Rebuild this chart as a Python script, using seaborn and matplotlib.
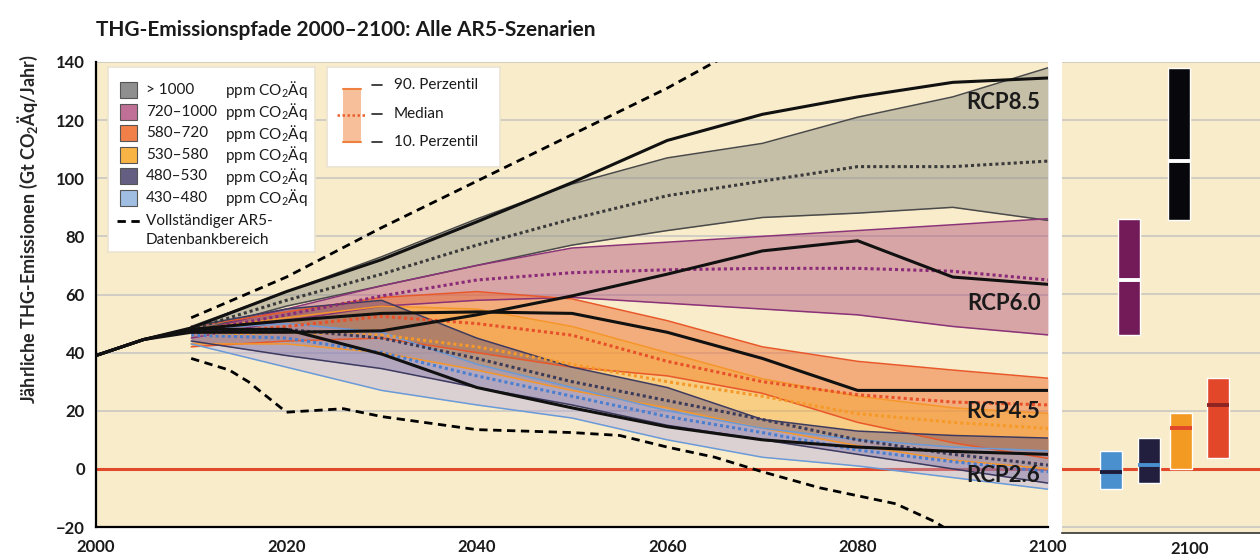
import numpy as np
import pandas as pd
import seaborn as sns
import matplotlib.pyplot as plt
from matplotlib.patches import Rectangle

# --- data (Gt CO2Äq/Jahr) ---
years = [2010, 2020, 2030, 2040, 2050, 2060, 2070, 2080, 2090, 2100]
full_years = [2000, 2005] + years

# Szenario-Kategorien: 10. Perzentil, Median, 90. Perzentil
cat_labels = ["> 1000", "720\u20131000", "580\u2013720", "530\u2013580", "480\u2013530", "430\u2013480"]

gt1000_lo = [47, 56, 63, 70, 77, 82, 86.5, 88, 90, 85.5]
gt1000_md = [48, 58, 67, 77, 86, 94, 99, 104, 104, 105.9]
gt1000_hi = [49, 61, 73, 86, 98, 107, 112, 121, 128, 138]

c720_lo = [45, 51, 56, 58, 59, 57, 55, 53, 49, 46.1]
c720_md = [47, 53, 59.5, 65, 67.5, 68.5, 69, 69, 68, 65]
c720_hi = [47, 55, 63, 70, 76, 78, 80, 82, 84, 86.1]

c580_lo = [42, 44, 45, 40, 35, 32, 26, 16, 9, 3.6]
c580_md = [46, 49, 52.5, 50, 46, 37, 30, 25.5, 23, 22]
c580_hi = [49, 54, 59, 61, 58.5, 51, 42, 37, 34, 31.2]

c530_lo = [43, 43, 40, 34, 27, 21, 14, 8, 3, 0]
c530_md = [46, 47, 46, 42, 36, 30, 25, 19, 16, 13.9]
c530_hi = [48, 52, 56, 55, 49, 40, 31, 25, 21, 19.1]

c480_lo = [44, 39, 34.5, 28, 22, 15, 10, 5, 0, -4.9]
c480_md = [47, 48, 45, 38, 30, 23.5, 17, 10, 5, 1.3]
c480_hi = [49, 55, 58, 45, 35, 28, 17, 13, 11.5, 10.6]

c430_lo = [43, 35, 27, 22, 17.5, 10, 4, 1, -3, -7]
c430_md = [46, 45, 40, 32, 25, 18, 12.5, 6.5, 2.5, -1]
c430_hi = [48, 50, 47, 36, 28, 20, 14, 10, 7.5, 6.2]

# RCP-Pfade inkl. historischer Verlauf 2000-2010
rcp85 = [39, 44.5, 48.5, 61, 72, 85, 98.5, 113, 122, 128, 133, 134.5]
rcp60 = [39, 44.5, 47, 47, 47.5, 53, 59.5, 67, 75, 78.5, 66, 63.5]
rcp45 = [39, 44.5, 48, 51, 53.5, 54, 53.5, 47, 38, 27, 27, 27]
rcp26 = [39, 44.5, 48, 48, 39.5, 28, 21, 14.5, 10, 7.5, 6, 5]

# Vollständiger AR5-Datenbankbereich
db_hi_years = [2010, 2020, 2030, 2040, 2050, 2060, 2065, 2070]
db_hi_vals = [52, 66, 83, 99, 115, 131, 140, 148]
db_lo_years = [2010, 2014, 2016, 2020, 2026, 2030, 2040, 2050, 2055, 2060, 2065, 2070, 2076, 2084, 2088, 2090]
db_lo_vals = [38, 34, 30, 19.5, 20.7, 18, 13.5, 12.5, 11.5, 7.5, 4, -1, -6.5, -12, -18, -22]

# --- styles ---
BG = "#f8ecca"
bands = [
    # lo, md, hi, fill, alpha, edge, median colour, legend colour
    (gt1000_lo, gt1000_md, gt1000_hi, "#8a8a80", 0.45, "#4a4a4a", "#3a3a3a", "#8f8f8f"),
    (c720_lo, c720_md, c720_hi, "#b0507a", 0.45, "#8a3378", "#8a2a78", "#c07096"),
    (c580_lo, c580_md, c580_hi, "#f07030", 0.50, "#e8582a", "#e8502a", "#f08048"),
    (c530_lo, c530_md, c530_hi, "#f9a830", 0.45, "#f5962a", "#f59a28", "#f9b446"),
    (c480_lo, c480_md, c480_hi, "#54487e", 0.42, "#3c3a60", "#3a3a5a", "#645f82"),
    (c430_lo, c430_md, c430_hi, "#b0a6e0", 0.38, "#6a9ad8", "#4a7ed0", "#a0bee2"),
]

sns.set_theme(style="white")
plt.rcParams['font.family'] = ['Lato', 'DejaVu Sans']
plt.rcParams['mathtext.fontset'] = 'custom'
plt.rcParams['mathtext.rm'] = 'Lato'
plt.rcParams['mathtext.bf'] = 'Lato:bold'

fig = plt.figure(figsize=(12.6, 5.6), dpi=100)
ax = fig.add_axes([96 / 1260, 33 / 560, 952 / 1260, 465 / 560])
ax2 = fig.add_axes([1062 / 1260, 27 / 560, 198 / 1260, 471 / 560])

for a in (ax, ax2):
    a.set_facecolor(BG)
    a.set_axisbelow(True)
    a.yaxis.grid(True, color="#cfcac2", lw=1.3)
    a.axhline(0, color="#e2492a", lw=2.2, zorder=1.5)

# bands
for lo, md, hi, fc, al, ec, mc, _ in bands:
    ax.fill_between(years, lo, hi, color=fc, alpha=al, lw=0, zorder=2)
    ax.plot(years, lo, color=ec, lw=1.1, zorder=2.5)
    ax.plot(years, hi, color=ec, lw=1.1, zorder=2.5)
for lo, md, hi, fc, al, ec, mc, _ in bands:
    sns.lineplot(x=years, y=md, ax=ax, color=mc, lw=2.2, linestyle=(0, (1, 1)), zorder=3)

# RCP lines
rcp_df = pd.DataFrame({
    "Jahr": full_years * 4,
    "Wert": rcp85 + rcp60 + rcp45 + rcp26,
    "Pfad": ["RCP8.5"] * 12 + ["RCP6.0"] * 12 + ["RCP4.5"] * 12 + ["RCP2.6"] * 12,
})
sns.lineplot(data=rcp_df, x="Jahr", y="Wert", hue="Pfad", ax=ax,
             palette=["#111111"] * 4, lw=2.2, legend=False, zorder=4)

# database range
sns.lineplot(x=db_hi_years, y=db_hi_vals, ax=ax, color="black", lw=2, linestyle=(0, (3, 2)), zorder=4)
sns.lineplot(x=db_lo_years, y=db_lo_vals, ax=ax, color="black", lw=2, linestyle=(0, (3, 2)), zorder=4)

ax.set_xlim(2000, 2100)
ax.set_ylim(-20, 140)
ax.set_xticks(range(2000, 2101, 20))
ax.set_yticks(range(-20, 141, 20))
ax.set_yticklabels([str(v).replace("-", "\u2212") for v in range(-20, 141, 20)])
ax.tick_params(axis="x", direction="out", length=6, width=1.3, color="black", labelsize=12, pad=3)
ax.tick_params(axis="y", direction="out", length=0, labelsize=12, pad=8)
for lab in ax.get_xticklabels() + ax.get_yticklabels():
    lab.set_fontweight("bold")
    lab.set_color("#1a1a1a")
for s in ("top", "right"):
    ax.spines[s].set_visible(False)
for s in ("left", "bottom"):
    ax.spines[s].set_color("black")
    ax.spines[s].set_linewidth(1.6)
ax.set_xlabel("")
ax.set_ylabel("J\u00e4hrliche THG-Emissionen (Gt CO$\\mathbf{_2}$\u00c4q/Jahr)", fontsize=13, fontweight="bold")
ax.yaxis.set_label_coords(-56 / 952, 0.64)

rcp_labels = [("RCP8.5", 126), ("RCP6.0", 57), ("RCP4.5", 19.7), ("RCP2.6", -2.4)]
for txt, yv in rcp_labels:
    ax.text(2099.2, yv, txt, ha="right", va="center", fontsize=16, fontweight="bold", color="#1a1a1a", zorder=6)

# right panel: Bandbreite 2100
bar_order = [5, 1, 4, 0, 3, 2]
bar_x = [49, 67, 87, 117, 119, 156]
bar_cols = ["#4a90cf", "#731a58", "#221f3e", "#08080c", "#f39a23", "#e2472a"]
med_cols = ["#1e1d3c", "white", "#4a90cf", "white", "#e2472a", "#8c2424"]
for xi, bi, bc, mcol in zip(bar_x, bar_order, bar_cols, med_cols):
    lo, md, hi = bands[bi][0][-1], bands[bi][1][-1], bands[bi][2][-1]
    ax2.bar(xi, hi - lo, bottom=lo, width=22, color=bc, zorder=3)
    ax2.hlines(md, xi - 11, xi + 11, color=mcol, lw=2.8, zorder=4)
ax2.set_xlim(0, 198)
ax2.set_ylim(-22.1, 140)
ax2.set_xticks([128])
ax2.set_xticklabels(["2100"])
ax2.set_yticks(range(-20, 141, 20))
ax2.tick_params(axis="y", length=0, labelleft=False)
ax2.tick_params(axis="x", direction="out", length=4, width=1.2, color="black", labelsize=12, pad=2)
for lab in ax2.get_xticklabels():
    lab.set_fontweight("bold")
    lab.set_color("#1a1a1a")
for s in ("top", "right", "left"):
    ax2.spines[s].set_visible(False)
ax2.spines["bottom"].set_color("#333333")
ax2.spines["bottom"].set_linewidth(1.2)

# legend box 1 (categories)
leg1 = ax.inset_axes([12 / 952, 1 - 190 / 465, 207 / 952, 185 / 465])
leg1.set_xlim(0, 207)
leg1.set_ylim(185, 0)
leg1.set_facecolor("white")
leg1.set_xticks([])
leg1.set_yticks([])
for s in leg1.spines.values():
    s.set_color("#ece4d2")
for i, (lab, b) in enumerate(zip(cat_labels, bands)):
    yy = 23 + 21.5 * i
    leg1.add_patch(Rectangle((12, yy - 8), 17, 16, facecolor=b[7], edgecolor="#555555", lw=0.8))
    leg1.text(38, yy, lab, va="center", fontsize=11, color="#1a1a1a")
    leg1.text(117, yy, "ppm CO$_2$\u00c4q", va="center", fontsize=11, color="#1a1a1a")
leg1.plot([9, 32], [154, 154], color="black", lw=2, ls=(0, (3, 2)))
leg1.text(38, 154, "Vollst\u00e4ndiger AR5-", va="center", fontsize=11, color="#1a1a1a")
leg1.text(38, 173, "Datenbankbereich", va="center", fontsize=11, color="#1a1a1a")

# legend box 2 (percentiles)
leg2 = ax.inset_axes([231 / 952, 1 - 105 / 465, 173 / 952, 100 / 465])
leg2.set_xlim(0, 173)
leg2.set_ylim(100, 0)
leg2.set_facecolor("white")
leg2.set_xticks([])
leg2.set_yticks([])
for s in leg2.spines.values():
    s.set_color("#ece4d2")
leg2.add_patch(Rectangle((16, 22), 18, 53, facecolor="#f7c09a", lw=0))
leg2.plot([16, 34], [22, 22], color="#ee8040", lw=1.5)
leg2.plot([16, 34], [75, 75], color="#ee8040", lw=1.5)
leg2.plot([10, 40], [48.5, 48.5], color="#e86030", lw=1.8, ls=(0, (1, 1)))
for yy, lab in zip([18, 47, 75], ["90. Perzentil", "Median", "10. Perzentil"]):
    leg2.plot([45, 55], [yy, yy], color="#222222", lw=1.2)
    leg2.text(67, yy, lab, va="center", fontsize=11, color="#1a1a1a")

fig.text(96 / 1260, 1 - 30 / 560, "THG-Emissionspfade 2000\u20132100: Alle AR5-Szenarien",
         fontsize=15, fontweight="bold", va="center", color="#1a1a1a")

fig.savefig("out.png", dpi=100, facecolor="white")
